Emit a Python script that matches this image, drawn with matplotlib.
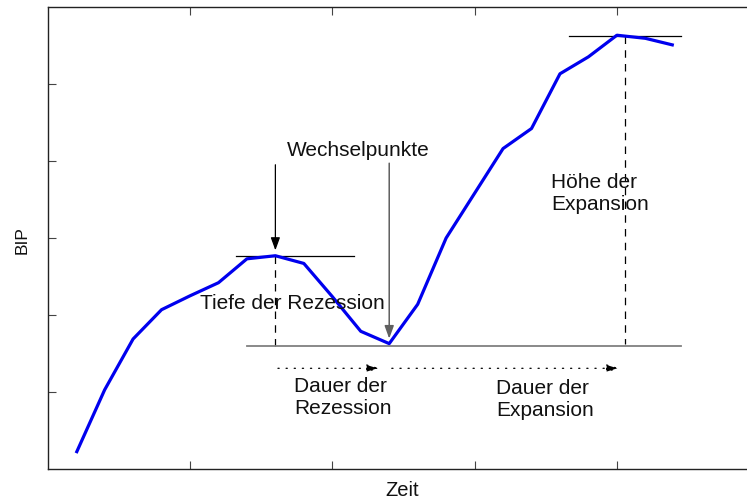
import matplotlib
matplotlib.use("Agg")
import matplotlib.pyplot as plt
import numpy as np

plt.rcParams['font.family'] = ['Liberation Sans', 'DejaVu Sans']

# Data
zeit = list(range(22))
bip = [2.1, 10.3, 16.9, 20.7, 22.5, 24.2, 27.3, 27.7, 26.7, 22.4, 17.9, 16.3,
       21.4, 30.0, 35.8, 41.6, 44.2, 51.3, 53.5, 56.3, 55.9, 55.0]
x_ticks = [4, 9, 14, 19]
y_ticks = [10, 20, 30, 40, 50]

labels = {
    'wechsel': 'Wechselpunkte',
    'tiefe': 'Tiefe der Rezession',
    'dauer_rez': 'Dauer der\nRezession',
    'dauer_exp': 'Dauer der\nExpansion',
    'hoehe': 'Höhe der\nExpansion',
}

fig = plt.figure(figsize=(7.47, 5.0), dpi=100)
ax = fig.add_axes([47.7/747, (500-469.3)/500, 711.5/747, 462.6/500])
ax.set_xlim(-1, 24)
ax.set_ylim(0, 60)

i_peak = 7
i_trough = 11
i_top = 19
peak = bip[i_peak]
trough = bip[i_trough]
top = bip[i_top]
base = trough - 0.35

ax.plot(zeit, bip, color='#0000ee', lw=2.3, solid_capstyle='butt', zorder=3)

# reference lines
ax.plot([5.6, 9.75], [peak, peak], color='black', lw=0.9)
ax.plot([i_peak, i_peak], [peak, base], color='black', lw=0.9, ls=(0, (6, 5)))
ax.plot([6.0, 21.25], [base, base], color='#808080', lw=1.3)
ax.plot([17.3, 21.25], [top - 0.1, top - 0.1], color='black', lw=0.9)
ax.plot([19.3, 19.3], [top - 0.1, base + 0.3], color='black', lw=0.9, ls=(0, (6, 5)))

head = '-|>,head_length=0.55,head_width=0.2'
# turning-point arrows
ax.annotate('', xy=(i_peak, peak + 0.7), xytext=(i_peak, 39.5),
            arrowprops=dict(arrowstyle=head, color='black', lw=0.9,
                            mutation_scale=14, shrinkA=0, shrinkB=0))
ax.annotate('', xy=(i_trough, trough + 0.65), xytext=(i_trough, 39.7),
            arrowprops=dict(arrowstyle=head, color='#606060', lw=1.1,
                            mutation_scale=14, shrinkA=0, shrinkB=0))

# duration arrows
dhead = '-|>,head_length=0.55,head_width=0.17'
ax.annotate('', xy=(10.66, 13.1), xytext=(7.09, 13.1),
            arrowprops=dict(arrowstyle=dhead, color='black', lw=0.9, ls=(0, (1, 5.5)),
                            mutation_scale=14, shrinkA=0, shrinkB=0))
ax.annotate('', xy=(19.09, 13.1), xytext=(11.09, 13.1),
            arrowprops=dict(arrowstyle=dhead, color='black', lw=0.9, ls=(0, (1, 5.5)),
                            mutation_scale=14, shrinkA=0, shrinkB=0))

fs = 15
col = '#111111'
ax.text(7.41, 41.4, labels['wechsel'], fontsize=fs, va='center', ha='left', color=col)
ax.text(4.36, 21.44, labels['tiefe'], fontsize=fs, va='center', ha='left', color=col)
ax.text(7.66, 9.3, labels['dauer_rez'], fontsize=fs, va='center', ha='left', color=col,
        linespacing=1.2)
ax.text(14.76, 9.1, labels['dauer_exp'], fontsize=fs, va='center', ha='left', color=col,
        linespacing=1.2)
ax.text(16.69, 35.8, labels['hoehe'], fontsize=fs, va='center', ha='left', color=col,
        linespacing=1.2)

ax.set_xticks(x_ticks)
ax.set_yticks(y_ticks)
ax.set_xticklabels([])
ax.set_yticklabels([])
ax.tick_params(direction='in', length=6, width=0.8, color='#444444',
               top=True, right=True)
for s in ax.spines.values():
    s.set_linewidth(1.0)
    s.set_color('#222222')

fig.text(22/747, 1 - 240/500, 'BIP', rotation=90, fontsize=12.5, ha='center', va='center', color=col)
fig.text(402/747, 1 - 490/500, 'Zeit', fontsize=14.5, ha='center', va='center', color=col)

fig.savefig('out.png', dpi=100)
